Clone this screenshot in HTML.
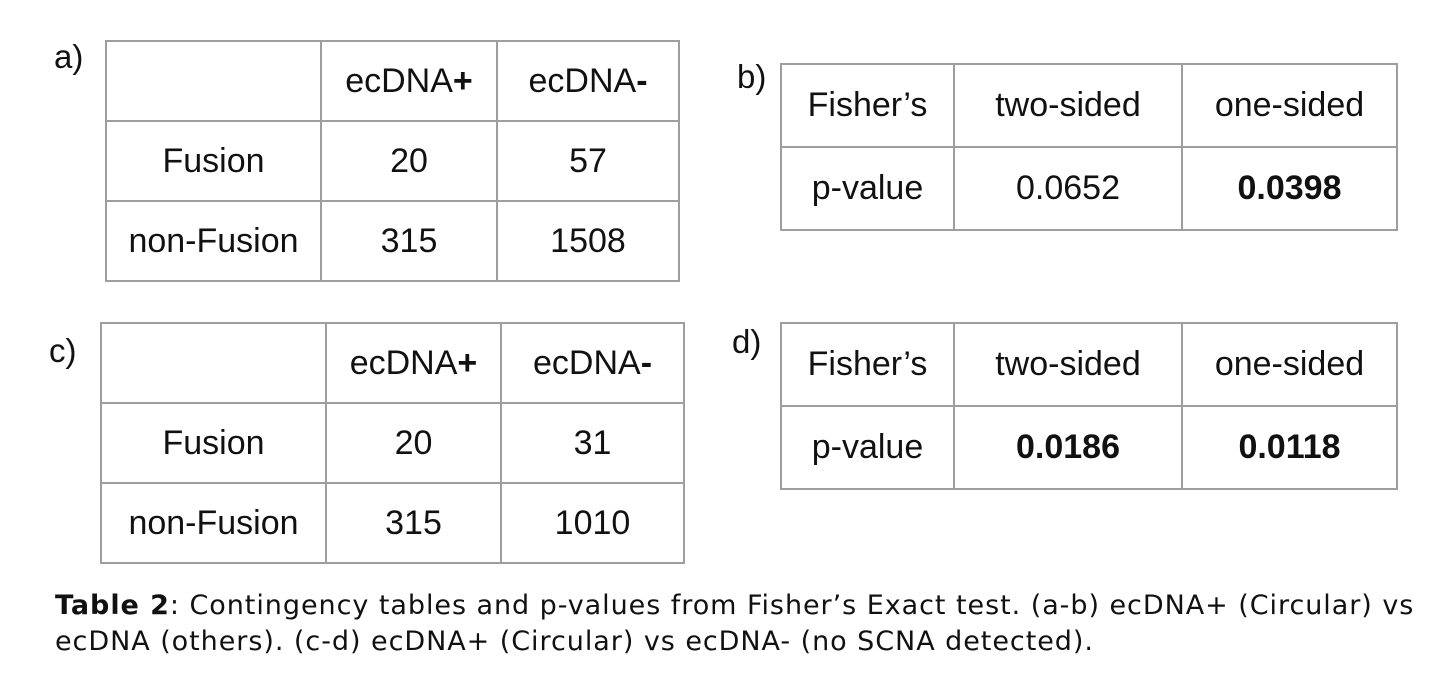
<!DOCTYPE html>
<html><head><meta charset="utf-8"><style>
body{margin:0;width:1450px;height:698px;background:#fff;position:relative;overflow:hidden;font-family:"Liberation Sans",Arial,sans-serif;color:#111}
.t{position:absolute;border-collapse:collapse;table-layout:fixed}
.t td{border:2px solid #9e9e9e;text-align:center;font-size:34px;padding:0}
.lbl{position:absolute;font-size:33px}
.cap{position:absolute;left:55px;top:588px;font-family:"DejaVu Sans",sans-serif;font-size:27px;letter-spacing:0.95px;line-height:36px;color:#111;white-space:nowrap}
</style></head><body>
<div class="lbl" style="left:54px;top:38px">a)</div>
<table class="t" style="left:105px;top:40px;width:575px;height:242px">
<colgroup><col style="width:215px"><col style="width:176px"><col style="width:182px"></colgroup>
<tr><td></td><td>ecDNA<b>+</b></td><td>ecDNA<b>-</b></td></tr>
<tr><td>Fusion</td><td>20</td><td>57</td></tr>
<tr><td>non-Fusion</td><td>315</td><td>1508</td></tr></table>
<div class="lbl" style="left:737px;top:58px">b)</div>
<table class="t" style="left:780px;top:63px;width:618px;height:168px">
<colgroup><col style="width:173px"><col style="width:228px"><col style="width:215px"></colgroup>
<tr><td>Fisher’s</td><td>two-sided</td><td>one-sided</td></tr>
<tr><td>p-value</td><td>0.0652</td><td><b>0.0398</b></td></tr></table>
<div class="lbl" style="left:49px;top:332px">c)</div>
<table class="t" style="left:100px;top:322px;width:585px;height:242px">
<colgroup><col style="width:225px"><col style="width:175px"><col style="width:183px"></colgroup>
<tr><td></td><td>ecDNA<b>+</b></td><td>ecDNA<b>-</b></td></tr>
<tr><td>Fusion</td><td>20</td><td>31</td></tr>
<tr><td>non-Fusion</td><td>315</td><td>1010</td></tr></table>
<div class="lbl" style="left:732px;top:323px">d)</div>
<table class="t" style="left:780px;top:322px;width:618px;height:168px">
<colgroup><col style="width:173px"><col style="width:228px"><col style="width:215px"></colgroup>
<tr><td>Fisher’s</td><td>two-sided</td><td>one-sided</td></tr>
<tr><td>p-value</td><td><b>0.0186</b></td><td><b>0.0118</b></td></tr></table>
<div class="cap"><b>Table 2</b>: Contingency tables and p-values from Fisher’s Exact test. (a-b) ecDNA+ (Circular) vs<br>ecDNA (others). (c-d) ecDNA+ (Circular) vs ecDNA- (no SCNA detected).</div>
</body></html>
